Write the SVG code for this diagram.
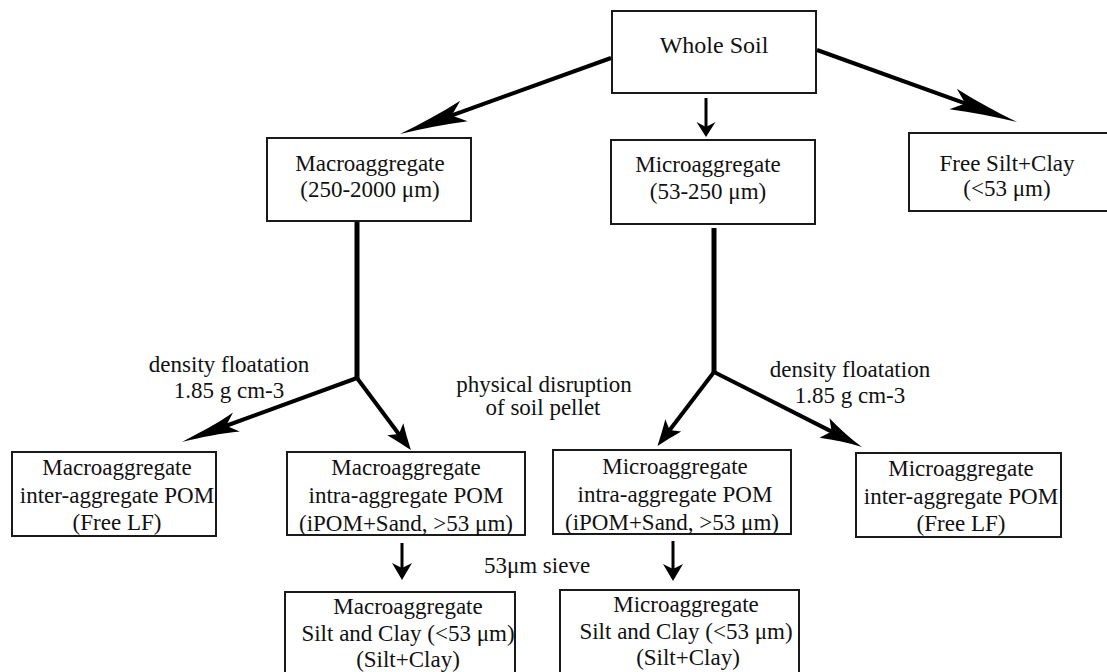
<svg xmlns="http://www.w3.org/2000/svg" width="1107" height="672" viewBox="0 0 1107 672">
<style>
.box{fill:#fff;stroke:#1a1a1a;stroke-width:2}
text{font-family:"Liberation Serif","Times New Roman",serif;font-size:23px;fill:#111;text-anchor:middle}
.ln{stroke:#000;fill:none;stroke-linecap:butt}
</style>
<defs>
<marker id="headLong" markerUnits="userSpaceOnUse" orient="auto" refX="-50" refY="0" overflow="visible">
<path d="M0,0 C-22,-2.5 -46,-6 -68,-11 L-55,0 L-68,11 C-46,6 -22,2.5 0,0 Z" fill="#000"/>
</marker>
<marker id="headLong2" markerUnits="userSpaceOnUse" orient="auto" refX="-42" refY="0" overflow="visible">
<path d="M0,0 C-19,-2.2 -40,-5 -58,-10 L-47,0 L-58,10 C-40,5 -19,2.2 0,0 Z" fill="#000"/>
</marker>
<marker id="headMid" markerUnits="userSpaceOnUse" orient="auto" refX="-30" refY="0" overflow="visible">
<path d="M0,0 C-14,-2.5 -28,-6 -42,-11 L-34,0 L-42,11 C-28,6 -14,2.5 0,0 Z" fill="#000"/>
</marker>
<marker id="headShort" markerUnits="userSpaceOnUse" orient="auto" refX="-18" refY="0" overflow="visible">
<path d="M0,0 C-8,-3 -17,-6 -26,-10 L-20,0 L-26,10 C-17,6 -8,3 0,0 Z" fill="#000"/>
</marker>
<marker id="headDown" markerUnits="userSpaceOnUse" orient="auto" refX="-10" refY="0" overflow="visible">
<path d="M0,0 L-15,-9.5 L-10,0 L-15,9.5 Z" fill="#000"/>
</marker>
<marker id="headDown2" markerUnits="userSpaceOnUse" orient="auto" refX="-12" refY="0" overflow="visible">
<path d="M0,0 L-17,-10 L-12,0 L-17,10 Z" fill="#000"/>
</marker>
</defs>

<g id="connectors">
<line class="ln" x1="611" y1="58" x2="447" y2="117.1" stroke-width="4" marker-end="url(#headLong)"/>
<line class="ln" x1="817" y1="50" x2="970" y2="105.1" stroke-width="4" marker-end="url(#headLong)"/>
<line class="ln" x1="706" y1="98" x2="706" y2="127" stroke-width="3" marker-end="url(#headDown)"/>
<line class="ln" x1="357" y1="221" x2="357" y2="378" stroke-width="5"/>
<line class="ln" x1="357" y1="378" x2="221.4" y2="427.5" stroke-width="4" marker-end="url(#headLong2)"/>
<line class="ln" x1="357" y1="378" x2="400.1" y2="435.7" stroke-width="4" marker-end="url(#headShort)"/>
<line class="ln" x1="714" y1="228" x2="714" y2="372" stroke-width="5"/>
<line class="ln" x1="714" y1="372" x2="668.4" y2="431.7" stroke-width="4" marker-end="url(#headShort)"/>
<line class="ln" x1="714" y1="372" x2="835.2" y2="433.4" stroke-width="4" marker-end="url(#headMid)"/>
<line class="ln" x1="402" y1="543" x2="402" y2="568" stroke-width="3" marker-end="url(#headDown2)"/>
<line class="ln" x1="673" y1="541" x2="673" y2="569" stroke-width="3" marker-end="url(#headDown2)"/>
</g>

<g id="labels">
<text x="229" y="372">density floatation</text>
<text x="229" y="398">1.85 g cm-3</text>
<text x="544" y="392">physical disruption</text>
<text x="543" y="415">of soil pellet</text>
<text x="850" y="377">density floatation</text>
<text x="850" y="403">1.85 g cm-3</text>
<text x="537" y="573">53μm sieve</text>
</g>

<g id="whole-soil">
<rect class="box" x="612" y="11" width="204" height="82"/>
<text x="714" y="53" style="font-size:24px">Whole Soil</text>
</g>

<g id="macroaggregate">
<rect class="box" x="267" y="138" width="204" height="83"/>
<text x="370" y="171">Macroaggregate</text>
<text x="370" y="197">(250-2000 μm)</text>
</g>

<g id="microaggregate">
<rect class="box" x="611" y="140" width="204" height="84"/>
<text x="708" y="172">Microaggregate</text>
<text x="708" y="199">(53-250 μm)</text>
</g>

<g id="free-silt-clay">
<rect class="box" x="909" y="133" width="199" height="78"/>
<text x="1007" y="171">Free Silt+Clay</text>
<text x="1007" y="196">(&lt;53 μm)</text>
</g>

<g id="macro-inter-pom">
<rect class="box" x="12" y="452" width="204" height="84"/>
<text x="117" y="475">Macroaggregate</text>
<text x="117" y="503">inter-aggregate POM</text>
<text x="117" y="530">(Free LF)</text>
</g>

<g id="macro-intra-pom">
<rect class="box" x="287" y="452" width="238" height="83"/>
<text x="406" y="475">Macroaggregate</text>
<text x="406" y="503">intra-aggregate POM</text>
<text x="406" y="531">(iPOM+Sand, &gt;53 μm)</text>
</g>

<g id="micro-intra-pom">
<rect class="box" x="553" y="450" width="238" height="84"/>
<text x="675" y="474">Microaggregate</text>
<text x="675" y="502">intra-aggregate POM</text>
<text x="672" y="530">(iPOM+Sand, &gt;53 μm)</text>
</g>

<g id="micro-inter-pom">
<rect class="box" x="856" y="453" width="205" height="84"/>
<text x="961" y="476">Microaggregate</text>
<text x="961" y="504">inter-aggregate POM</text>
<text x="961" y="531">(Free LF)</text>
</g>

<g id="macro-silt-clay">
<rect class="box" x="285" y="592" width="230" height="100"/>
<text x="408" y="614">Macroaggregate</text>
<text x="408" y="641">Silt and Clay (&lt;53 μm)</text>
<text x="408" y="667">(Silt+Clay)</text>
</g>

<g id="micro-silt-clay">
<rect class="box" x="560" y="590" width="239" height="100"/>
<text x="686" y="612">Microaggregate</text>
<text x="686" y="639">Silt and Clay (&lt;53 μm)</text>
<text x="688" y="665">(Silt+Clay)</text>
</g>
</svg>
